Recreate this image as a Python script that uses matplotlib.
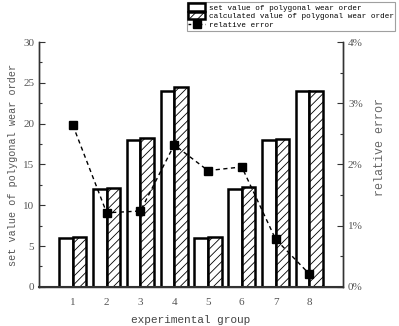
import numpy as np
import matplotlib
matplotlib.use("Agg")
import matplotlib.pyplot as plt
from matplotlib.ticker import MultipleLocator, FuncFormatter
from matplotlib.patches import Patch
from matplotlib.lines import Line2D

groups = [1, 2, 3, 4, 5, 6, 7, 8]
set_value = [6, 12, 18, 24, 6, 12, 18, 24]
calc_value = [6.15, 12.15, 18.2, 24.5, 6.1, 12.25, 18.1, 24.05]
rel_error = [2.64, 1.21, 1.24, 2.32, 1.90, 1.96, 0.78, 0.21]  # percent

label_font = "Liberation Mono"
tick_font = "Liberation Serif"

plt.rcParams['hatch.color'] = '#aaaaaa'
plt.rcParams['hatch.linewidth'] = 0.6

fig = plt.figure(figsize=(3.99, 3.26), dpi=100)
ax = fig.add_axes([0.098, 0.12, 0.762, 0.751])
ax2 = ax.twinx()

x = np.array(groups)
w = 0.4
ax.bar(x - w / 2, set_value, width=w, facecolor="white", edgecolor="black",
       linewidth=1.8, zorder=2)
ax.bar(x + w / 2, calc_value, width=w, facecolor="white", edgecolor="black",
       linewidth=1.8, hatch="////", zorder=2)

ax2.plot(x, rel_error, ls=(0, (3, 2.5)), color="black", lw=1.0,
         marker="s", ms=5.2, mfc="black", mec="black")

ax.set_xlim(0, 9)
ax.set_ylim(0, 30)
ax2.set_ylim(0, 4)
ax.set_xticks(groups)
ax.yaxis.set_major_locator(MultipleLocator(5))
ax.yaxis.set_minor_locator(MultipleLocator(2.5))
ax2.yaxis.set_major_locator(MultipleLocator(1))
ax2.yaxis.set_minor_locator(MultipleLocator(0.5))
ax2.yaxis.set_major_formatter(FuncFormatter(lambda v, p: f"{v:.0f}%"))

for a in (ax, ax2):
    a.spines["top"].set_visible(False)
    for s in a.spines.values():
        s.set_linewidth(1.0)
        s.set_color("#333333")
    a.tick_params(axis="y", which="both", direction="in", width=0.8,
                  colors="#333333", labelcolor="#555555")
    a.tick_params(axis="y", which="major", length=4)
    a.tick_params(axis="y", which="minor", length=2)
    for t in a.get_yticklabels():
        t.set_fontfamily(tick_font)
        t.set_fontsize(8)
ax.tick_params(axis="x", length=0, pad=8, labelcolor="#555555")
for t in ax.get_xticklabels():
    t.set_fontfamily(tick_font)
    t.set_fontsize(8)
ax.spines["bottom"].set_linewidth(1.5)

ax.set_xlabel("experimental group", fontfamily=label_font, fontsize=8,
              color="#444444", labelpad=6)
ax.set_ylabel("set value of polygonal wear order", fontfamily=label_font,
              fontsize=7.3, color="#555555", labelpad=4)
ax2.set_ylabel("relative error", fontfamily=label_font, fontsize=8.5,
               color="#666666", labelpad=8)
ax2.yaxis.set_label_coords(1.1, 0.57)

handles = [
    Patch(facecolor="white", edgecolor="black", linewidth=1.8),
    Patch(facecolor="white", edgecolor="black", linewidth=1.8, hatch="////"),
    Line2D([], [], ls=(0, (2, 2)), color="black", lw=1.0, marker="s",
           ms=5.5, mfc="black"),
]
labels = ["set value of polygonal wear order",
          "calculated value of polygonal wear order",
          "relative error"]
leg = fig.legend(handles, labels, loc="upper left",
                 bbox_to_anchor=(0.468, 0.995), frameon=True, fancybox=False,
                 prop={"family": label_font, "size": 5.5},
                 handlelength=2.2, handleheight=1.15, handletextpad=0.5,
                 labelspacing=0.05, borderpad=0.2, borderaxespad=0.0)
leg.get_frame().set_edgecolor("#888888")
leg.get_frame().set_linewidth(0.8)

fig.savefig("out.png", dpi=100)
